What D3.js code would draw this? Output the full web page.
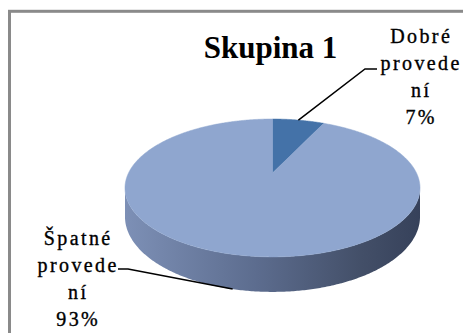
<!DOCTYPE html>
<html>
<head>
<meta charset="utf-8">
<script src="https://cdn.jsdelivr.net/npm/d3@7"></script>
<style>
  html, body { margin: 0; padding: 0; background: #fff; }
  svg { display: block; }
  .serif { font-family: "Liberation Serif", "Times New Roman", serif; }
</style>
</head>
<body>
<svg id="chart" width="463" height="333"></svg>
<script>
// ---- data ----
const title = "Skupina 1";
const categories = ["Dobré provedení", "Špatné provedení"];
const values = [7, 93];
const labelLines = [["Dobré", "provede", "ní"], ["Špatné", "provede", "ní"]];
const colors = ["#4472a8", "#8fa6cf"];

// ---- layout ----
const svg = d3.select("#chart");
const cx = 272.5, cy = 173;      // projected centre of the top face
const sx = 144, sy = 65.7;       // radii before perspective
const k = 0.217;                 // perspective strength
const depth = 27.4;              // thickness of the pie

function proj(a, drop) {
  const u = Math.sin(a), v = Math.cos(a);
  const d = 1 + k * v;
  return [cx + sx * u / d, cy - sy * v / d + (drop || 0) / d];
}
function rim(a0, a1, drop) {
  const n = Math.max(2, Math.ceil(Math.abs(a1 - a0) / 0.01));
  return d3.range(n + 1).map(i => proj(a0 + (a1 - a0) * i / n, drop));
}

// frame
svg.append("rect")
  .attr("x", 9.5).attr("y", 11.3).attr("width", 520).attr("height", 400)
  .attr("fill", "#fff").attr("stroke", "#8a8a8a").attr("stroke-width", 3);

const defs = svg.append("defs");
const grad = defs.append("linearGradient").attr("id", "side")
  .attr("gradientUnits", "userSpaceOnUse")
  .attr("x1", cx - sx * 1.03).attr("x2", cx + sx * 1.03).attr("y1", 0).attr("y2", 0);
grad.append("stop").attr("offset", 0).attr("stop-color", "#7d90b6");
grad.append("stop").attr("offset", 0.45).attr("stop-color", "#5c6c8e");
grad.append("stop").attr("offset", 0.8).attr("stop-color", "#434f68");
grad.append("stop").attr("offset", 1).attr("stop-color", "#36415a");

const pie = d3.pie().sort(null).startAngle(0).endAngle(2 * Math.PI);
const arcs = pie(values);
const line = d3.line();

const aR = Math.acos(-k), aL = 2 * Math.PI - Math.acos(-k);
arcs.forEach((d, i) => {
  const a0 = Math.max(d.startAngle, aR), a1 = Math.min(d.endAngle, aL);
  if (a1 <= a0) return;
  const pts = rim(a0, a1, 0).concat(rim(a1, a0, depth));
  svg.append("path")
    .attr("d", line(pts) + "Z")
    .attr("fill", i === 0 ? d3.color(colors[0]).darker(0.6) : "url(#side)");
});

arcs.forEach((d, i) => {
  const pts = [[cx, cy]].concat(rim(d.startAngle, d.endAngle, 0));
  svg.append("path")
    .attr("d", line(pts) + "Z")
    .attr("fill", colors[i])
    .attr("stroke", colors[i]).attr("stroke-width", 0.5);
});

// title
svg.append("text")
  .attr("class", "serif")
  .attr("x", 270.5).attr("y", 58)
  .attr("text-anchor", "middle")
  .attr("font-weight", "bold").attr("font-size", 31)
  .attr("fill", "#000")
  .text(title);

// labels with leader lines
const total = d3.sum(values);
const labelPos = [
  { x: 420, y: 43, elbow: [[365, 69], [377, 69]], drop: 0 },
  { x: 77, y: 245, elbow: [[128, 269], [118, 269]], drop: depth }
];
arcs.forEach((d, i) => {
  const mid = (d.startAngle + d.endAngle) / 2;
  const p = proj(mid, labelPos[i].drop);
  svg.append("path")
    .attr("d", line([p].concat(labelPos[i].elbow)))
    .attr("fill", "none").attr("stroke", "#000").attr("stroke-width", 1.5);
  const lines = labelLines[i].concat([Math.round(values[i] / total * 100) + "%"]);
  const t = svg.append("text")
    .attr("class", "serif")
    .attr("text-anchor", "middle")
    .attr("font-size", 20)
    .attr("letter-spacing", 2.4)
    .attr("fill", "#000")
    .attr("stroke", "#000").attr("stroke-width", 0.35);
  lines.forEach((s, j) => {
    t.append("tspan")
      .attr("x", labelPos[i].x + 1.2)
      .attr("y", labelPos[i].y + j * 27)
      .text(s);
  });
});
</script>
</body>
</html>
